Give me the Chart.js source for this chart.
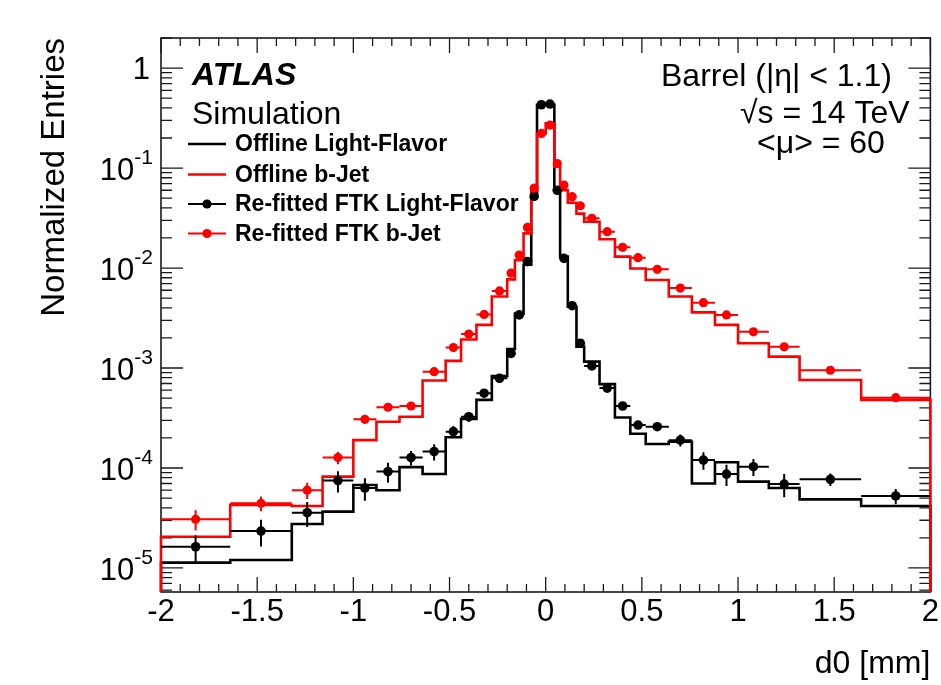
<!DOCTYPE html>
<html>
<head>
<meta charset="utf-8">
<title>d0 resolution, barrel</title>
<script src="https://cdn.jsdelivr.net/npm/chart.js@4.4.1/dist/chart.umd.min.js"></script>
<style>
  html, body { margin: 0; padding: 0; background: #fff; }
  canvas { display: block; }
</style>
</head>
<body>
<canvas id="c" width="941" height="685"></canvas>
<script>
// Variable-width d0 bins [mm], symmetric about zero
const binEdges = [-2, -1.64, -1.32, -1.16, -1.0, -0.88, -0.76, -0.64, -0.52, -0.44, -0.36, -0.28, -0.2, -0.16, -0.115, -0.075, -0.045, 0,
                  0.045, 0.075, 0.115, 0.16, 0.2, 0.28, 0.36, 0.44, 0.52, 0.64, 0.76, 0.88, 1.0, 1.16, 1.32, 1.64, 2];

// Offline tracks, light-flavour jets (histogram)
const offlineLF = [1.13e-5, 1.2e-5, 2.75e-5, 3.66e-5, 6.76e-5, 6.0e-5, 1.02e-4, 8.7e-5, 2.03e-4, 3.1e-4, 4.8e-4, 8.3e-4, 1.55e-3, 3.5e-3, 0.0108, 0.056, 0.43,
                   0.43, 0.060, 0.013, 4.1e-3, 1.63e-3, 1.16e-3, 6.9e-4, 3.2e-4, 2.2e-4, 1.74e-4, 1.83e-4, 7.0e-5, 1.14e-4, 7.3e-5, 6.3e-5, 4.86e-5, 4.17e-5];

// Offline tracks, b-jets (histogram)
const offlineB = [2.05e-5, 4.27e-5, 4.17e-5, 8.2e-5, 1.9e-4, 2.9e-4, 3.26e-4, 7.5e-4, 1.18e-3, 1.93e-3, 2.7e-3, 5.2e-3, 7.7e-3, 0.012, 0.0222, 0.060, 0.222,
                  0.28, 0.103, 0.060, 0.045, 0.035, 0.029, 0.0194, 0.013, 9.9e-3, 7.6e-3, 5.2e-3, 3.6e-3, 2.7e-3, 1.77e-3, 1.3e-3, 7.6e-4, 4.8e-4];

// Re-fitted FTK tracks, light-flavour jets (markers) and their errors
const ftkLF = [1.63e-5, 2.34e-5, 3.57e-5, 7.5e-5, 6.3e-5, 9.2e-5, 1.27e-4, 1.46e-4, 2.31e-4, 3.26e-4, 5.6e-4, 7.9e-4, 1.4e-3, 3.4e-3, 0.0116, 0.052, 0.43,
               0.437, 0.060, 0.0125, 4.2e-3, 1.77e-3, 1.05e-3, 6.3e-4, 4.17e-4, 2.69e-4, 2.59e-4, 1.9e-4, 1.2e-4, 8.7e-5, 1.03e-4, 6.9e-5, 7.7e-5, 5.25e-5];
const ftkLFErr = [0.5e-5, 0.7e-5, 1.0e-5, 1.8e-5, 1.6e-5, 2.1e-5, 2.1e-5, 2.7e-5, 3.2e-5, 3.8e-5, 5e-5, 5e-5, 6e-5, 1e-4, 2e-4, 5e-4, 2e-3,
                  2e-3, 5e-4, 2e-4, 1e-4, 6e-5, 6e-5, 5e-5, 3e-5, 2.5e-5, 2.4e-5, 2.6e-5, 2.4e-5, 2.1e-5, 2e-5, 1.8e-5, 1.1e-5, 0.9e-5];

// Re-fitted FTK tracks, b-jets (markers) and their errors
const ftkB = [3.07e-5, 4.44e-5, 6.0e-5, 1.27e-4, 3.07e-4, 4.05e-4, 4.17e-4, 9.2e-4, 1.6e-3, 2.19e-3, 3.44e-3, 5.9e-3, 8.9e-3, 0.0135, 0.0255, 0.063, 0.222,
              0.269, 0.111, 0.0676, 0.0517, 0.042, 0.0314, 0.0231, 0.0161, 0.0127, 9.7e-3, 6.3e-3, 4.5e-3, 3.4e-3, 2.3e-3, 1.63e-3, 9.5e-4, 5.05e-4];
const ftkBErr = [0.7e-5, 0.75e-5, 1.1e-5, 1.8e-5, 3e-5, 3e-5, 3e-5, 5e-5, 6e-5, 8e-5, 1e-4, 1.2e-4, 1.5e-4, 2e-4, 3e-4, 6e-4, 2e-3,
                 2e-3, 1e-3, 6e-4, 5e-4, 4e-4, 3e-4, 2.5e-4, 2e-4, 1.7e-4, 1.4e-4, 1e-4, 8e-5, 6e-5, 5e-5, 4e-5, 3e-5, 2e-5];

const seriesLabels = ['Offline Light-Flavor', 'Offline b-Jet', 'Re-fitted FTK Light-Flavor', 'Re-fitted FTK b-Jet'];

// Axis ticks
const xTickValues = [-2, -1.5, -1, -0.5, 0, 0.5, 1, 1.5, 2];
const xTickLabels = ['-2', '-1.5', '-1', '-0.5', '0', '0.5', '1', '1.5', '2'];
const yTickExponents = [0, -1, -2, -3, -4, -5];
const yRange = [5.75e-6, 2.0];

const FONT = "'Liberation Sans', Arial, Helvetica, sans-serif";
const NARROW = "'Liberation Sans Narrow', 'Arial Narrow', 'Liberation Sans', Arial, sans-serif";
const BLACK = '#000000';
const RED = '#ff0000';
const FLOOR = 1e-9; // below the axis, closes the histogram outline

// histogram outline: one point per lower bin edge, closed at both ends
function outline(vals) {
  const last = binEdges.length - 1;
  const pts = [{ x: binEdges[0], y: FLOOR }];
  vals.forEach((v, i) => pts.push({ x: binEdges[i], y: v }));
  pts.push({ x: binEdges[last], y: vals[vals.length - 1] });
  pts.push({ x: binEdges[last], y: FLOOR });
  return pts;
}
function markers(vals) {
  return vals.map((v, i) => ({ x: (binEdges[i] + binEdges[i + 1]) / 2, y: v }));
}

// frame with inward ticks on all four sides
const framePlugin = {
  id: 'frame',
  beforeDatasetsDraw(chart) {
    const { ctx, chartArea: a, scales: { x, y } } = chart;
    ctx.save();
    ctx.strokeStyle = '#1a1a1a';
    ctx.lineWidth = 1.6;
    ctx.strokeRect(a.left, a.top, a.right - a.left, a.bottom - a.top);
    ctx.lineWidth = 1.3;
    ctx.beginPath();
    for (let k = -20; k <= 20; k++) {
      const px = x.getPixelForValue(k / 10);
      const len = (k % 5 === 0) ? 15 : 8;
      ctx.moveTo(px, a.bottom); ctx.lineTo(px, a.bottom - len);
      ctx.moveTo(px, a.top); ctx.lineTo(px, a.top + len);
    }
    for (let e = -6; e <= 0; e++) {
      for (let m = 1; m <= 9; m++) {
        const v = m * Math.pow(10, e);
        if (v < yRange[0] || v > yRange[1]) continue;
        const py = y.getPixelForValue(v);
        const len = (m === 1) ? 22 : 11;
        ctx.moveTo(a.left, py); ctx.lineTo(a.left + len, py);
        ctx.moveTo(a.right, py); ctx.lineTo(a.right - len, py);
      }
    }
    ctx.stroke();
    ctx.restore();
  }
};

// bin-width horizontal bars and vertical statistical errors for marker series
const errorBarPlugin = {
  id: 'errorBars',
  beforeDatasetDraw(chart, args) {
    const ds = chart.data.datasets[args.index];
    if (!ds.yErr) return;
    const { ctx, chartArea: a, scales: { x, y } } = chart;
    ctx.save();
    ctx.beginPath();
    ctx.rect(a.left, a.top, a.right - a.left, a.bottom - a.top);
    ctx.clip();
    ctx.strokeStyle = ds.pointBackgroundColor;
    ctx.lineWidth = 2;
    ctx.beginPath();
    ds.data.forEach((p, i) => {
      const px = x.getPixelForValue(p.x);
      const py = y.getPixelForValue(p.y);
      ctx.moveTo(x.getPixelForValue(binEdges[i]), py);
      ctx.lineTo(x.getPixelForValue(binEdges[i + 1]), py);
      ctx.moveTo(px, y.getPixelForValue(p.y + ds.yErr[i]));
      ctx.lineTo(px, y.getPixelForValue(Math.max(p.y - ds.yErr[i], FLOOR)));
    });
    ctx.stroke();
    ctx.restore();
  }
};

// y tick labels as powers of ten, legend and physics labels
const textPlugin = {
  id: 'texts',
  afterDraw(chart) {
    const { ctx, chartArea: a, scales: { y } } = chart;
    ctx.save();
    ctx.fillStyle = BLACK;

    // y tick labels
    ctx.textBaseline = 'alphabetic';
    ctx.textAlign = 'right';
    const right = a.left - 8;
    yTickExponents.forEach(e => {
      const py = y.getPixelForValue(Math.pow(10, e));
      if (e === 0) {
        ctx.font = `31px ${NARROW}`;
        ctx.fillText('1', right - 3, py + 11);
        return;
      }
      const sup = String(e);
      ctx.font = `21px ${NARROW}`;
      const ws = ctx.measureText(sup).width;
      ctx.fillText(sup, right, py - 4);
      ctx.font = `31px ${NARROW}`;
      ctx.fillText('10', right - ws, py + 12);
    });

    // experiment label
    ctx.textAlign = 'left';
    ctx.font = `italic bold 32px ${FONT}`;
    ctx.fillText('ATLAS', 192, 85);
    ctx.font = `32px ${FONT}`;
    ctx.fillText('Simulation', 192, 124);

    // conditions
    ctx.fillText('Barrel (|\u03b7| < 1.1)', 661, 86);
    ctx.fillText('\u221as = 14 TeV', 740, 123);
    ctx.fillText('<\u03bc> = 60', 757, 153);

    // legend
    const rows = [144, 174.5, 204, 233.5];
    chart.data.datasets.forEach((ds, i) => {
      const ry = rows[i];
      const col = ds.yErr ? ds.pointBackgroundColor : ds.borderColor;
      ctx.strokeStyle = col;
      ctx.lineWidth = ds.yErr ? 2 : 2.4;
      ctx.beginPath();
      ctx.moveTo(188, ry); ctx.lineTo(226, ry);
      ctx.stroke();
      if (ds.yErr) {
        ctx.fillStyle = col;
        ctx.beginPath();
        ctx.arc(207, ry, 4.6, 0, Math.PI * 2);
        ctx.fill();
      }
      ctx.fillStyle = BLACK;
      ctx.font = `bold 23px ${FONT}`;
      ctx.textBaseline = 'middle';
      ctx.fillText(ds.label, 235, ry + 1);
      ctx.textBaseline = 'alphabetic';
    });
    ctx.restore();
  }
};

const lineClip = { left: 3, right: 3, top: 0, bottom: 0 };

new Chart(document.getElementById('c'), {
  type: 'scatter',
  data: {
    datasets: [
      { label: seriesLabels[0], type: 'line', data: outline(offlineLF), borderColor: BLACK, borderWidth: 2.6,
        stepped: true, pointRadius: 0, fill: false, order: 4, clip: lineClip },
      { label: seriesLabels[1], type: 'line', data: outline(offlineB), borderColor: RED, borderWidth: 2.6,
        stepped: true, pointRadius: 0, fill: false, order: 3, clip: lineClip },
      { label: seriesLabels[2], data: markers(ftkLF), yErr: ftkLFErr, pointRadius: 4.8, pointBorderWidth: 0,
        pointBackgroundColor: BLACK, borderColor: BLACK, showLine: false, order: 2 },
      { label: seriesLabels[3], data: markers(ftkB), yErr: ftkBErr, pointRadius: 4.6, pointBorderWidth: 0,
        pointBackgroundColor: RED, borderColor: RED, showLine: false, order: 1 }
    ]
  },
  options: {
    responsive: false,
    animation: false,
    devicePixelRatio: 1,
    events: [],
    layout: { padding: { left: 30, right: 9, top: 38, bottom: 0 } },
    plugins: { legend: { display: false }, tooltip: { enabled: false } },
    scales: {
      x: {
        type: 'linear', min: -2, max: 2,
        afterBuildTicks: s => { s.ticks = xTickValues.map(v => ({ value: v })); },
        afterFit: s => { s.height = 93; },
        grid: { display: false, drawTicks: false },
        border: { display: false },
        ticks: {
          font: { family: NARROW, size: 31 }, color: BLACK, padding: 2,
          maxRotation: 0, autoSkip: false,
          callback: (v) => { const i = xTickValues.indexOf(v); return i >= 0 ? xTickLabels[i] : ''; }
        },
        title: { display: true, text: 'd0 [mm]', align: 'end', color: BLACK,
                 font: { family: FONT, size: 32 }, padding: { top: 0, bottom: 2 } }
      },
      y: {
        type: 'logarithmic', min: yRange[0], max: yRange[1], bounds: 'data',
        afterFit: s => { s.width = 131; },
        grid: { display: false, drawTicks: false },
        border: { display: false },
        ticks: { display: false },
        title: { display: true, text: 'Normalized Entries', align: 'end', color: BLACK,
                 font: { family: FONT, size: 33 }, padding: { top: 5, bottom: 0 } }
      }
    }
  },
  plugins: [framePlugin, errorBarPlugin, textPlugin]
});
</script>
</body>
</html>
